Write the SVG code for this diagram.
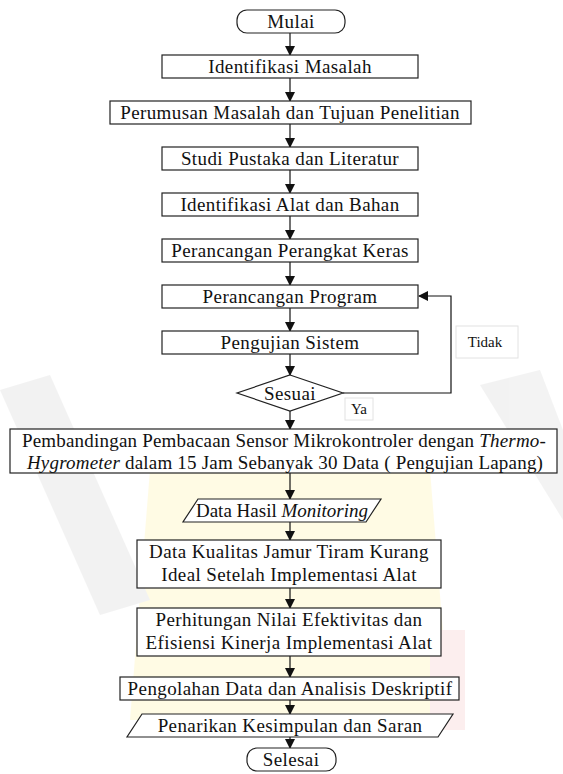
<svg xmlns="http://www.w3.org/2000/svg" width="563" height="774" viewBox="0 0 563 774">
<style>
.box{fill:#fff;stroke:#222;stroke-width:1.2}
.t{font-family:"Liberation Serif","DejaVu Serif",serif;font-size:19px;letter-spacing:0.4px;fill:#111;text-anchor:middle}
.w{letter-spacing:0.2px}
.n{letter-spacing:0px}
.s{font-family:"Liberation Serif","DejaVu Serif",serif;font-size:15px;fill:#111;text-anchor:middle}
.c{fill:none;stroke:#111;stroke-width:1.2}
.lbl{fill:#fff;stroke:#e2e2e2;stroke-width:1}
</style>
<defs>
<marker id="ah" markerWidth="10" markerHeight="10" refX="9" refY="5" orient="auto" markerUnits="userSpaceOnUse">
<path d="M0,0 L10,5 L0,10 Z" fill="#111"/>
</marker>
</defs>
<rect width="563" height="774" fill="#fff"/>
<g id="watermark" opacity="0.22">
<path d="M150,470 Q290,420 430,470 L450,720 L130,720 Z" fill="#fff08a"/>
<path d="M0,390 L50,375 L150,600 L100,615 Z" fill="#c8c8c8"/>
<path d="M480,385 L540,370 L563,430 L563,520 Z" fill="#c8c8c8"/>
<rect x="430" y="630" width="35" height="100" fill="#f3b5b5"/>
</g>
<g id="connectors">
<line class="c" x1="290" y1="33" x2="290" y2="55" marker-end="url(#ah)"/>
<line class="c" x1="290" y1="78" x2="290" y2="101" marker-end="url(#ah)"/>
<line class="c" x1="290" y1="124" x2="290" y2="147" marker-end="url(#ah)"/>
<line class="c" x1="290" y1="170" x2="290" y2="193" marker-end="url(#ah)"/>
<line class="c" x1="290" y1="216" x2="290" y2="239" marker-end="url(#ah)"/>
<line class="c" x1="290" y1="262" x2="290" y2="285" marker-end="url(#ah)"/>
<line class="c" x1="290" y1="308" x2="290" y2="331" marker-end="url(#ah)"/>
<line class="c" x1="290" y1="354" x2="290" y2="375" marker-end="url(#ah)"/>
<polyline class="c" points="343,393 451,393 451,296 419,296" marker-end="url(#ah)"/>
<line class="c" x1="290" y1="411" x2="290" y2="429" marker-end="url(#ah)"/>
<line class="c" x1="290" y1="473" x2="290" y2="499" marker-end="url(#ah)"/>
<line class="c" x1="290" y1="522" x2="290" y2="540" marker-end="url(#ah)"/>
<line class="c" x1="290" y1="588" x2="290" y2="608" marker-end="url(#ah)"/>
<line class="c" x1="290" y1="656" x2="290" y2="677" marker-end="url(#ah)"/>
<line class="c" x1="290" y1="700" x2="290" y2="714" marker-end="url(#ah)"/>
<line class="c" x1="290" y1="737" x2="290" y2="748" marker-end="url(#ah)"/>
<g id="label-tidak"><rect class="lbl" x="456" y="326" width="62" height="32"/><text class="s" x="485" y="347">Tidak</text></g>
<g id="label-ya"><rect class="lbl" x="345" y="398" width="28" height="22"/><text class="s" x="359" y="414">Ya</text></g>
</g>
<g id="mulai"><rect class="box" x="237" y="10" width="108" height="23" rx="10"/><text class="t" x="291" y="28">Mulai</text></g>
<g id="n1"><rect class="box" x="162" y="55" width="256" height="23"/><text class="t" x="290" y="73">Identifikasi Masalah</text></g>
<g id="n2"><rect class="box" x="110" y="101" width="361" height="23"/><text class="t" x="290" y="119">Perumusan Masalah dan Tujuan Penelitian</text></g>
<g id="n3"><rect class="box" x="162" y="147" width="256" height="23"/><text class="t" x="290" y="165">Studi Pustaka dan Literatur</text></g>
<g id="n4"><rect class="box" x="162" y="193" width="256" height="23"/><text class="t" x="290" y="211">Identifikasi Alat dan Bahan</text></g>
<g id="n5"><rect class="box" x="162" y="239" width="256" height="23"/><text class="t" x="290" y="257">Perancangan Perangkat Keras</text></g>
<g id="n6"><rect class="box" x="162" y="285" width="256" height="23"/><text class="t" x="290" y="303">Perancangan Program</text></g>
<g id="n7"><rect class="box" x="162" y="331" width="256" height="23"/><text class="t" x="290" y="349">Pengujian Sistem</text></g>
<g id="sesuai"><polygon class="box" points="290,375 343,393 290,411 237,393"/><text class="t" x="290" y="400">Sesuai</text></g>
<g id="n8"><rect class="box" x="10" y="429" width="547" height="44"/>
<text class="t w" x="284" y="447">Pembandingan Pembacaan Sensor Mikrokontroler dengan <tspan font-style="italic">Thermo-</tspan></text>
<text class="t w" x="285" y="469"><tspan font-style="italic">Hygrometer</tspan> dalam 15 Jam Sebanyak 30 Data ( Pengujian Lapang)</text></g>
<g id="n9"><polygon class="box" points="198,499 381,499 366,522 183,522"/><text class="t n" x="282" y="517">Data Hasil <tspan font-style="italic">Monitoring</tspan></text></g>
<g id="n10"><rect class="box" x="137" y="540" width="304" height="48"/>
<text class="t" x="289" y="558">Data Kualitas Jamur Tiram Kurang</text>
<text class="t" x="289" y="581">Ideal Setelah Implementasi Alat</text></g>
<g id="n11"><rect class="box" x="137" y="608" width="304" height="48"/>
<text class="t" x="289" y="626">Perhitungan Nilai Efektivitas dan</text>
<text class="t" x="289" y="649">Efisiensi Kinerja Implementasi Alat</text></g>
<g id="n12"><rect class="box" x="120" y="677" width="339" height="23"/><text class="t" x="290" y="695">Pengolahan Data dan Analisis Deskriptif</text></g>
<g id="n13"><polygon class="box" points="142,714 453,714 438,737 127,737"/><text class="t" x="290" y="732">Penarikan Kesimpulan dan Saran</text></g>
<g id="selesai"><rect class="box" x="247" y="748" width="89" height="23" rx="10"/><text class="t" x="291" y="766">Selesai</text></g>
</svg>
